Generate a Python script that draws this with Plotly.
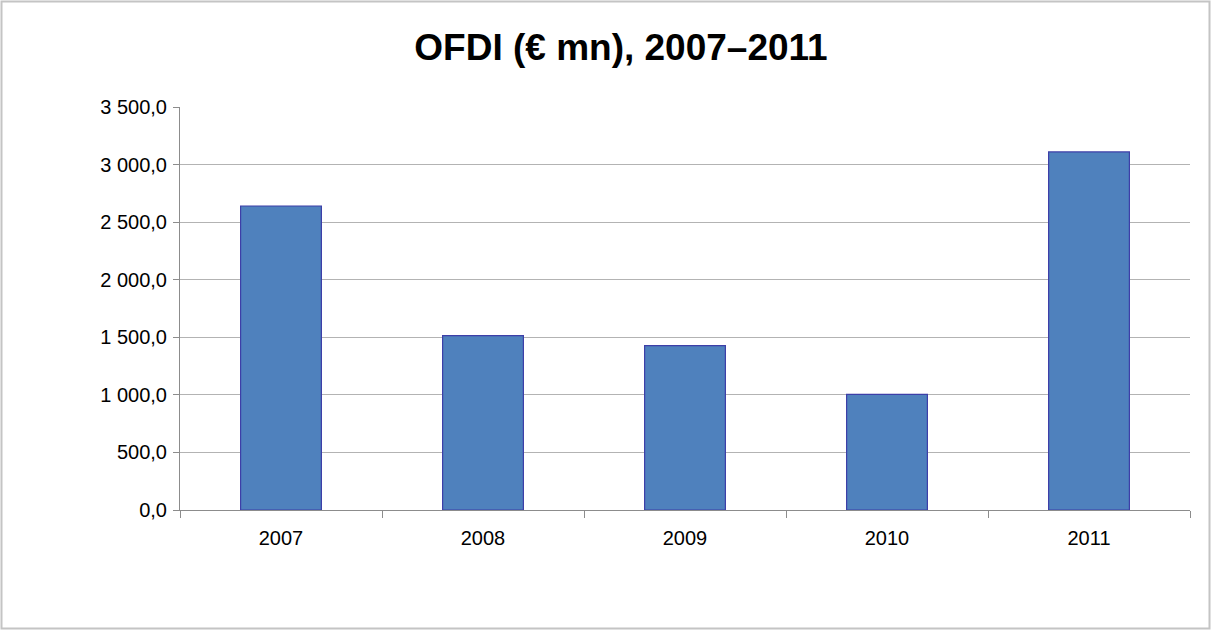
import plotly.graph_objects as go

years = ['2007', '2008', '2009', '2010', '2011']
ofdi = [2640.0, 1515.0, 1427.0, 1005.0, 3110.0]
y_ticks = [0, 500, 1000, 1500, 2000, 2500, 3000, 3500]

W, H = 1211, 630
L, R, T, B = 180, 21, 107, 120
pw, ph = W - L - R, H - T - B

fig = go.Figure()
fig.add_trace(go.Bar(
    x=years, y=ofdi,
    marker=dict(color='#4f81bd', line=dict(color='#3d3fa8', width=1.2)),
    hoverinfo='x+y',
))

fig.update_layout(
    width=W, height=H,
    margin=dict(l=L, r=R, t=T, b=B),
    paper_bgcolor='white', plot_bgcolor='white',
    separators=', ',
    bargap=0.6,
    showlegend=False,
    font=dict(family='Liberation Sans, Arial, sans-serif', size=20, color='black'),
    # title is placed relative to the whole page (container)
    title=dict(text='<b>OFDI (€ mn), 2007–2011</b>', x=621 / W, xanchor='center',
               y=1 - 47 / H, yanchor='middle',
               font=dict(size=37, color='black')),
    # outer frame of the chart
    shapes=[dict(type='rect', xref='paper', yref='paper',
                 x0=(1.5 - L) / pw, x1=(W - 1.5 - L) / pw,
                 y0=(H - B - (H - 1.5)) / ph, y1=(H - B - 1.5) / ph,
                 line=dict(color='#c4c4c4', width=2), layer='below')],
)

fig.update_xaxes(
    type='category', showline=True, linecolor='#8c8c8c', linewidth=1,
    ticks='outside', tickson='boundaries', ticklen=7, tickcolor='#8c8c8c',
    showgrid=False, tickfont=dict(size=20), ticklabelstandoff=10,
)
fig.update_yaxes(
    range=[0, 3500], tickvals=y_ticks, tickformat=',.1f',
    showline=True, linecolor='#8c8c8c', linewidth=1,
    ticks='outside', ticklen=6, tickcolor='#8c8c8c',
    showgrid=True, gridcolor='#b3b3b3', gridwidth=1,
    zeroline=False, tickfont=dict(size=20), ticklabelstandoff=2,
)

fig.write_html('out.html', config={'displayModeBar': False},
               post_script="document.body.style.margin='0';")
